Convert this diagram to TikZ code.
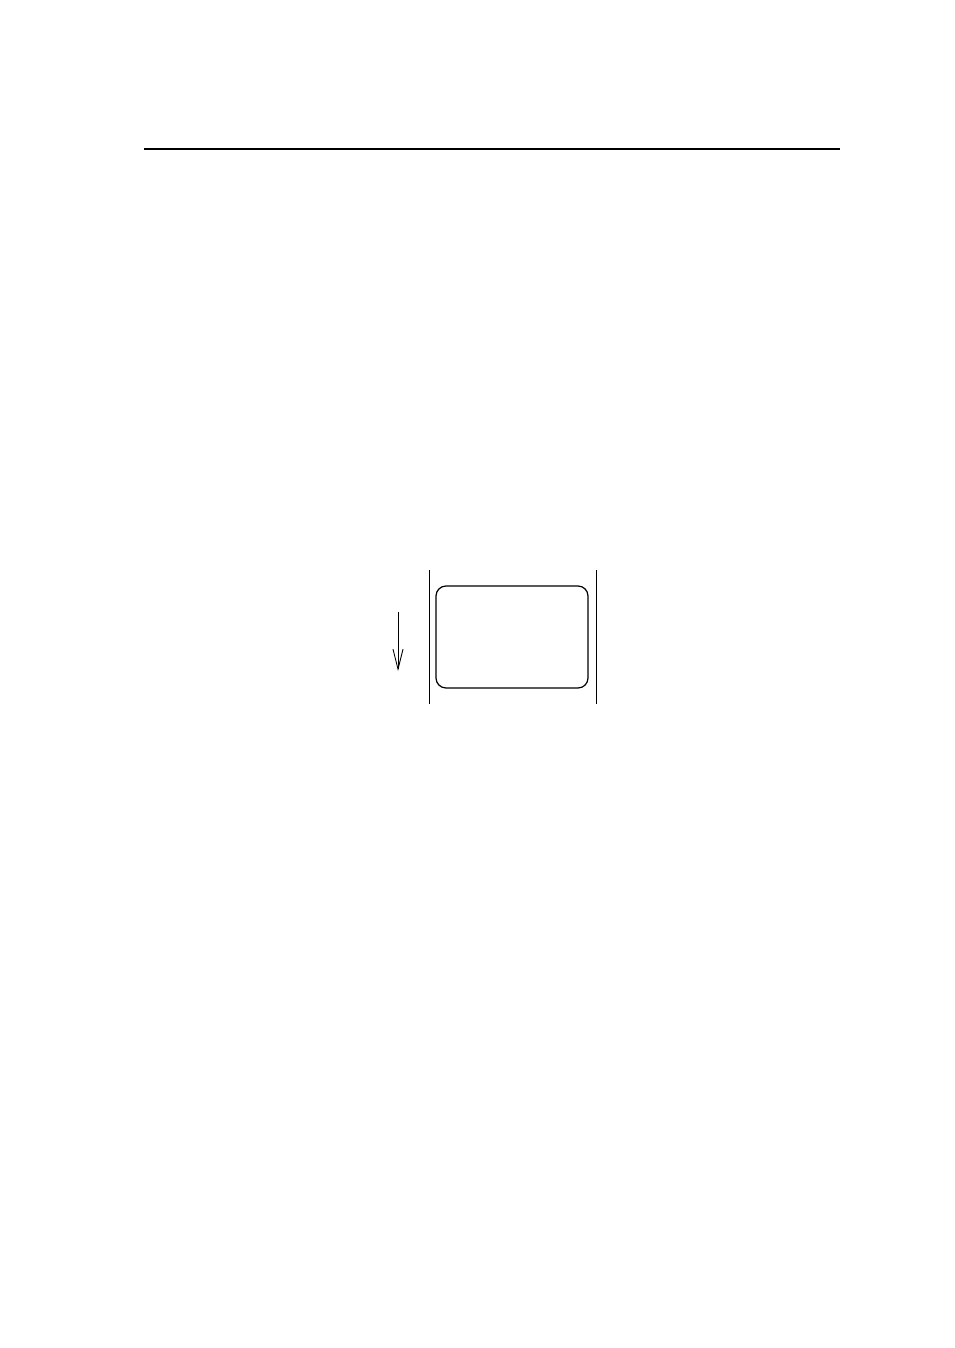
\documentclass[tikz,border=0pt]{standalone}
\usetikzlibrary{arrows.meta}
\begin{document}
\begin{tikzpicture}[x=1pt,y=-1pt,
  thinline/.style={line width=1pt,black},
  rulestyle/.style={line width=2pt,black},
  boxstyle/.style={draw,line width=1.2pt,rounded corners=10pt,minimum width=152pt,minimum height=102pt,inner sep=0pt},
  downarrow/.style={thinline,-{Straight Barb[length=20pt,width=10pt,line width=0.9pt]}}]
\useasboundingbox (0,0) rectangle (954,1348);
\coordinate (rl) at (144,149);
\coordinate (rr) at (840,149);
\draw[rulestyle] (rl) -- (rr);
\coordinate (lt) at (429,570);
\coordinate (lb) at (429,704);
\coordinate (rt) at (596,570);
\coordinate (rb) at (596,704);
\draw[thinline] (lt) -- (lb);
\draw[thinline] (rt) -- (rb);
\node[boxstyle] (box) at (512,637) {};
\coordinate (at) at (398,612);
\coordinate (ab) at (398,671);
\draw[downarrow] (at) -- (ab);
\end{tikzpicture}
\end{document}
